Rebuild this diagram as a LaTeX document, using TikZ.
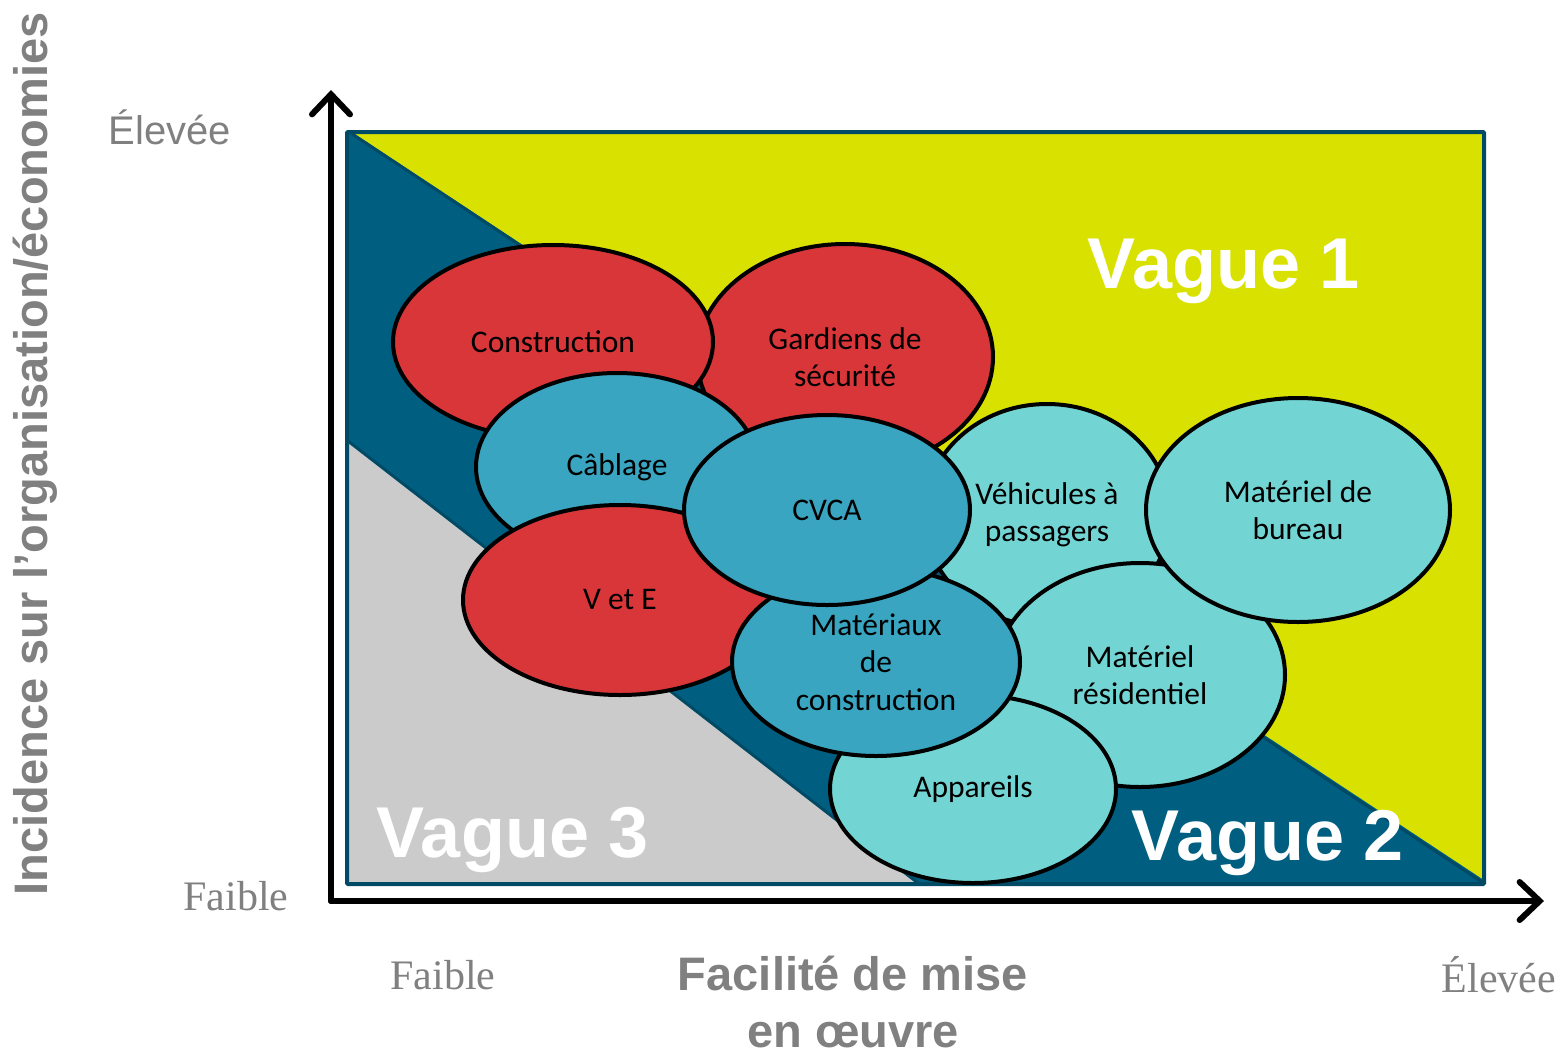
\documentclass[tikz,border=0pt]{standalone}
\usepackage{fontspec}
\setmainfont{Liberation Serif}
\newfontfamily\calibri{Carlito}
\newfontfamily\arial{Liberation Sans}
\usetikzlibrary{shapes.geometric,arrows.meta}

\definecolor{waveone}{HTML}{D9E100}
\definecolor{wavetwo}{HTML}{005F80}
\definecolor{wavethree}{HTML}{CBCBCB}
\definecolor{edgeblue}{HTML}{004A66}
\definecolor{hotred}{HTML}{D9363A}
\definecolor{midblue}{HTML}{39A5C1}
\definecolor{paleteal}{HTML}{72D5D3}
\definecolor{axisgrey}{HTML}{808080}

\begin{document}
\begin{tikzpicture}[x=1pt,y=-1pt]
		\tikzstyle{bubble}=[ellipse,draw=black,line width=4pt,inner sep=0pt,align=center,
		  font=\calibri\fontsize{31.5}{37.5}\selectfont]
		\tikzstyle{redbub}=[bubble,fill=hotred]
		\tikzstyle{bluebub}=[bubble,fill=midblue]
		\tikzstyle{tealbub}=[bubble,fill=paleteal]
		\tikzstyle{wave}=[text=white,font=\arial\bfseries\fontsize{72}{80}\selectfont]
		\tikzstyle{level}=[text=axisgrey,font=\fontsize{42}{48}\selectfont]
		\tikzstyle{axistitle}=[text=axisgrey,align=center,inner sep=0pt,font=\arial\bfseries\fontsize{47}{57}\selectfont]
		\tikzstyle{axis}=[line width=6pt,line cap=round,-{Straight Barb[length=20pt,width=38pt,line cap=round]}]
		\useasboundingbox (0,0) rectangle (1566,1055);
		
		% the three waves
		\fill[wavetwo] (347,132) rectangle (1484,884);
		\fill[waveone] (352,132) -- (1484,132) -- (1484,880) -- cycle;
		\fill[wavethree] (347,440) -- (920,884) -- (347,884) -- cycle;
		\draw[edgeblue,line width=3pt] (352,134) -- (1482,882);
		\draw[edgeblue,line width=3pt] (348,441) -- (918,883);
		\draw[edgeblue,line width=4pt,rounded corners=1pt] (347,132) rectangle (1484,884);
		
		\node[wave](v-1) at (1224,271) {Vague 1};
		\node[wave](v-2) at (1268,843) {Vague 2};
		\node[wave](v-3) at (513,840) {Vague 3};
		
		% categories
		\node[tealbub,minimum width=246pt,minimum height=222pt](vehic) at (1047,515) {V\'ehicules \`a\\passagers};
		\node[redbub,minimum width=296pt,minimum height=226pt](gard) at (845,357) {Gardiens de\\s\'ecurit\'e};
		\node[redbub,minimum width=320pt,minimum height=194pt](constr) at (553,342) {Construction};
		\node[bluebub,minimum width=282pt,minimum height=188pt](cabl) at (617,467) {C\^ablage};
		\node[redbub,minimum width=314pt,minimum height=190pt](ve) at (620,600) {V et E};
		\node[tealbub,minimum width=290pt,minimum height=224pt](resid) at (1140,675) {Mat\'eriel\\r\'esidentiel};
		\node[tealbub,minimum width=304pt,minimum height=224pt](bureau) at (1298,510) {Mat\'eriel de\\bureau};
		\node[tealbub,minimum width=286pt,minimum height=188pt](appar) at (973,789) {Appareils};
		\node[bluebub,minimum width=288pt,minimum height=188pt](mater) at (876,662) {Mat\'eriaux\\de\\construction};
		\node[bluebub,minimum width=286pt,minimum height=190pt](cvca) at (827,510) {CVCA};
		
		% axes
		\coordinate (o) at (331,901);
		\coordinate (y-top) at (331,90);
		\coordinate (x-end) at (1544,901);
		\draw[axis] (o) -- (y-top);
		\draw[axis] (o) -- (x-end);
		
		\node[level,font=\arial\fontsize{40}{46}\selectfont](y-high) at (170,127) {\'Elev\'ee};
		\node[level](y-low) at (236,896) {Faible};
		\node[level](x-low) at (443,975) {Faible};
		\node[level](x-high) at (1499,975) {\'Elev\'ee};
		
		\node[axistitle](x-title) at (853,1002) {Facilit\'e de mise\\en \oe uvre};
		\node[axistitle,rotate=90](y-title) at (35,454) {Incidence sur l’organisation/\'economies};
\end{tikzpicture}
\end{document}
